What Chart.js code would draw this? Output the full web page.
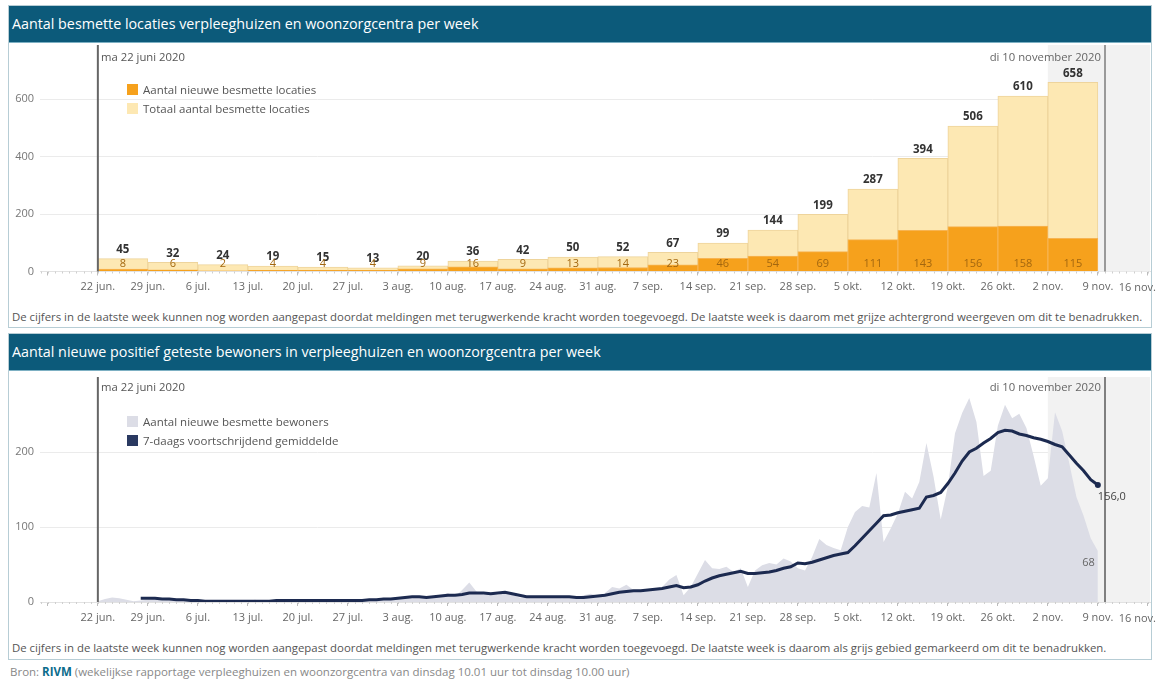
<!DOCTYPE html>
<html lang="nl">
<head>
<meta charset="utf-8">
<script src="https://cdn.jsdelivr.net/npm/chart.js@4.4.1/dist/chart.umd.min.js"></script>
<style>
  html, body { margin: 0; padding: 0; background: #fff; }
  body { width: 1158px; height: 682px; position: relative; overflow: hidden; font-family: 'Open Sans', sans-serif; color: #555; }
  .panel { position: absolute; left: 8px; width: 1142px; border: 1px solid #b7cdd5; }
  .head { position: absolute; left: 0; top: 0; right: 0; height: 36px; line-height: 36px; background: #0c5a7a; color: #fff; font-size: 14.3px; padding-left: 3px; border-bottom: 1px solid #7db0c3; }
  .box { position: absolute; left: 9px; width: 1149px; }
  .note { position: absolute; left: 12px; font-size: 11.4px; line-height: 16px; color: #555; white-space: nowrap; }
  .ann { position: absolute; font-size: 11.3px; line-height: 14px; color: #555; white-space: nowrap; }
  .legend { position: absolute; left: 127px; font-size: 11.5px; color: #555; }
  .legend div { position: relative; height: 19px; line-height: 19px; padding-left: 16px; white-space: nowrap; }
  .legend span { position: absolute; left: 0; top: 4px; width: 11px; height: 11px; }
  .src { position: absolute; left: 10px; top: 664px; font-size: 11.5px; line-height: 16px; color: #888; white-space: nowrap; }
  .src b { color: #0b6c8c; }
</style>
</head>
<body>

<div class="panel" style="top:5px;height:321px">
  <div class="head">Aantal besmette locaties verpleeghuizen en woonzorgcentra per week</div>
</div>
<div class="box" style="top:42px;height:260px"><canvas id="weekChart"></canvas></div>
<div class="ann" style="left:101px;top:50px">ma 22 juni 2020</div>
<div class="ann" style="right:57px;top:50px;color:#666">di 10 november 2020</div>
<div class="legend" style="top:80px">
  <div><span style="background:#f6a11c"></span>Aantal nieuwe besmette locaties</div>
  <div><span style="background:#fde8b3"></span>Totaal aantal besmette locaties</div>
</div>
<div class="note" style="top:309px">De cijfers in de laatste week kunnen nog worden aangepast doordat meldingen met terugwerkende kracht worden toegevoegd. De laatste week is daarom met grijze achtergrond weergeven om dit te benadrukken.</div>

<div class="panel" style="top:333px;height:325px">
  <div class="head">Aantal nieuwe positief geteste bewoners in verpleeghuizen en woonzorgcentra per week</div>
</div>
<div class="box" style="top:372px;height:258px"><canvas id="dayChart"></canvas></div>
<div class="ann" style="left:101px;top:380px">ma 22 juni 2020</div>
<div class="ann" style="right:57px;top:380px;color:#666">di 10 november 2020</div>
<div class="legend" style="top:412px">
  <div><span style="background:#dcdde6"></span>Aantal nieuwe besmette bewoners</div>
  <div><span style="background:#2a3961"></span>7-daags voortschrijdend gemiddelde</div>
</div>
<div class="note" style="top:640px">De cijfers in de laatste week kunnen nog worden aangepast doordat meldingen met terugwerkende kracht worden toegevoegd. De laatste week is daarom als grijs gebied gemarkeerd om dit te benadrukken.</div>

<div class="src">Bron: <b>RIVM</b> (wekelijkse rapportage verpleeghuizen en woonzorgcentra van dinsdag 10.01 uur tot dinsdag 10.00 uur)</div>

<script>
Chart.defaults.font.family = '"Open Sans", sans-serif';
Chart.defaults.font.size = 11;

// x-as: dagen sinds ma 22 juni, labels per week
const axisDays   = [-7, 0, 7, 14, 21, 28, 35, 42, 49, 56, 63, 70, 77, 84, 91, 98, 105, 112, 119, 126, 133, 140, 147];
const axisLabels = ['', '22 jun.', '29 jun.', '6 jul.', '13 jul.', '20 jul.', '27 jul.', '3 aug.', '10 aug.', '17 aug.',
                    '24 aug.', '31 aug.', '7 sep.', '14 sep.', '21 sep.', '28 sep.', '5 okt.', '12 okt.', '19 okt.',
                    '26 okt.', '2 nov.', '9 nov.', '16 nov.'];
const markStart = 0;      // ma 22 juni 2020
const markEnd = 141;      // di 10 november 2020
const lastWeekStart = 133;

// bovenste grafiek: per week
const barWeeks = ['22 jun.', '29 jun.', '6 jul.', '13 jul.', '20 jul.', '27 jul.', '3 aug.', '10 aug.', '17 aug.', '24 aug.',
                  '31 aug.', '7 sep.', '14 sep.', '21 sep.', '28 sep.', '5 okt.', '12 okt.', '19 okt.', '26 okt.', '2 nov.'];
const totalLoc = [45, 32, 24, 19, 15, 13, 20, 36, 42, 50, 52, 67, 99, 144, 199, 287, 394, 506, 610, 658];
const newLoc   = [8, 6, 2, 4, 4, 4, 9, 16, 9, 13, 14, 23, 46, 54, 69, 111, 143, 156, 158, 115];
const weekTicksY = [0, 200, 400, 600];

// onderste grafiek: per dag vanaf 22 juni
const dailyRes = [
  1, 4, 6, 5, 3, 1, 2,
  3, 4, 2, 3, 1, 2, 1,
  1, 2, 1, 0, 1, 2, 1,
  1, 3, 1, 2, 1, 3, 1,
  2, 1, 2, 3, 1, 2, 1,
  2, 1, 3, 2, 4, 3, 5,
  4, 6, 5, 8, 6, 7, 9,
  12, 7, 16, 26, 14, 10, 11,
  9, 13, 10, 6, 5, 7, 6,
  8, 7, 5, 8, 6, 9, 11,
  8, 12, 20, 18, 23, 16, 14,
  15, 17, 20, 30, 36, 9, 20,
  38, 56, 45, 44, 47, 40, 45,
  20, 42, 49, 52, 50, 58, 54,
  45, 42, 60, 84, 76, 72, 69,
  100, 120, 128, 126, 172, 80, 98,
  118, 147, 138, 160, 212, 167, 110,
  154, 225, 252, 272, 240, 168, 175,
  235, 263, 245, 251, 232, 195, 155,
  165, 253, 228, 185, 140, 115, 85,
  68
];
const avgStartDay = 6;
const avg7 = [
  5, 5, 5, 4, 4, 3, 3,
  2, 2, 1, 1, 1, 1, 1,
  1, 1, 1, 1, 1, 2, 2,
  2, 2, 2, 2, 2, 2, 2,
  2, 2, 2, 2, 3, 3, 4,
  4, 5, 6, 7, 7, 6, 7,
  8, 9, 9, 10, 12, 12, 12,
  11, 12, 13, 11, 9, 7, 7,
  7, 7, 7, 7, 7, 6, 6,
  7, 8, 9, 11, 13, 14, 15,
  15, 16, 17, 18, 20, 22, 19,
  20, 23, 28, 32, 35, 37, 39,
  41, 38, 38, 39, 40, 42, 45,
  47, 52, 51, 53, 56, 59, 62,
  64, 66, 75, 85, 95, 105, 115,
  116, 119, 121, 123, 125, 140, 142,
  146, 158, 172, 188, 200, 205, 212,
  218, 226, 229, 228, 224, 222, 219,
  217, 214, 210, 207, 196, 185, 175,
  163, 156
];
const dayTicksY = [0, 100, 200];

const lastTick = axisLabels.length - 1;

function xAxis(h) {
  return {
    type: 'linear', min: -8.1, max: 147.3, offset: false,
    afterBuildTicks: s => { s.ticks = axisDays.map(v => ({ value: v })); },
    afterFit: s => { s.height = h; s.paddingLeft = 0; s.paddingRight = 0; },
    // laatste label wordt door de plugin binnen de rand gezet
    ticks: { callback: (v, i) => i === lastTick ? '' : axisLabels[i], color: '#666', autoSkip: false, maxRotation: 0, padding: 5 },
    grid: { drawOnChartArea: false, drawTicks: true, tickLength: 4, color: '#bdbdbd', offset: false },
    border: { display: true, color: '#e2e2e2' }
  };
}
function yAxis(max, tickVals) {
  return {
    min: 0, max: max,
    afterBuildTicks: s => { s.ticks = tickVals.map(v => ({ value: v })); },
    afterFit: s => { s.width = 31; s.paddingTop = 0; s.paddingBottom = 0; },
    ticks: { color: '#777', padding: 6 },
    grid: { color: '#ebebeb', drawTicks: false },
    border: { display: false }
  };
}

// grijze laatste week, datumlijnen, dagstreepjes
const frame = {
  id: 'frame',
  beforeDatasetsDraw(chart) {
    const { ctx, chartArea: a, scales: { x, y } } = chart;
    const base = y.getPixelForValue(0);
    const g0 = x.getPixelForValue(lastWeekStart);
    ctx.save();
    ctx.fillStyle = '#f2f2f2';
    ctx.fillRect(g0, a.top, a.right - g0, base - a.top);
    ctx.restore();
  },
  afterDatasetsDraw(chart) {
    const { ctx, chartArea: a, scales: { x, y } } = chart;
    const base = y.getPixelForValue(0);
    ctx.save();
    ctx.strokeStyle = '#cfcfcf';
    ctx.lineWidth = 1;
    for (let d = -8; d <= 147; d++) {
      const px = Math.round(x.getPixelForValue(d)) + 0.5;
      ctx.beginPath(); ctx.moveTo(px, base); ctx.lineTo(px, base + 2); ctx.stroke();
    }
    ctx.lineWidth = 2;
    ctx.strokeStyle = '#666';
    let px = x.getPixelForValue(markStart);
    ctx.beginPath(); ctx.moveTo(px, a.top); ctx.lineTo(px, base); ctx.stroke();
    ctx.strokeStyle = chart.config.type === 'line' ? '#808080' : '#9a9a9a';
    px = x.getPixelForValue(markEnd);
    ctx.beginPath(); ctx.moveTo(px, a.top); ctx.lineTo(px, base); ctx.stroke();

    ctx.font = '11px "Open Sans"';
    ctx.fillStyle = '#666';
    ctx.textAlign = 'right';
    ctx.textBaseline = 'top';
    ctx.fillText(axisLabels[lastTick], chart.width - 2, base + 11);
    ctx.restore();
  }
};

const barLabels = {
  id: 'barLabels',
  afterDatasetsDraw(chart) {
    const { ctx, scales: { x, y } } = chart;
    const base = y.getPixelForValue(0);
    ctx.save();
    ctx.textAlign = 'center';
    ctx.textBaseline = 'middle';
    totalLoc.forEach((t, i) => {
      const cx = x.getPixelForValue(i * 7 + 3.5);
      ctx.font = 'bold 11.5px "Open Sans"';
      ctx.fillStyle = '#333';
      ctx.fillText(t, cx, y.getPixelForValue(t) - 9);
      ctx.font = '11px "Open Sans"';
      ctx.fillStyle = '#a3670f';
      ctx.fillText(newLoc[i], cx, base - 8);
    });
    ctx.restore();
  }
};

new Chart(document.getElementById('weekChart'), {
  type: 'bar',
  data: {
    labels: barWeeks,
    datasets: [
      {
        label: 'Aantal nieuwe besmette locaties',
        data: newLoc.map((v, i) => ({ x: i * 7 + 3.5, y: v })),
        backgroundColor: '#f6a11c', borderColor: '#f7b452', borderWidth: 1,
        grouped: false, categoryPercentage: 1, barPercentage: 1
      },
      {
        label: 'Totaal aantal besmette locaties',
        data: totalLoc.map((v, i) => ({ x: i * 7 + 3.5, y: v })),
        backgroundColor: '#fde8b3', borderColor: '#eed49c', borderWidth: 1,
        grouped: false, categoryPercentage: 1, barPercentage: 1
      }
    ]
  },
  options: {
    responsive: true, maintainAspectRatio: false, animation: false,
    layout: { padding: { top: 3, right: 8 } },
    scales: { x: xAxis(30.5), y: yAxis(788, weekTicksY) },
    plugins: { legend: { display: false }, tooltip: { enabled: false } }
  },
  plugins: [frame, barLabels]
});

const endLabels = {
  id: 'endLabels',
  afterDatasetsDraw(chart) {
    const { ctx, scales: { x, y } } = chart;
    const lastDay = dailyRes.length - 1;
    const lastAvg = avg7[avg7.length - 1];
    const px = x.getPixelForValue(lastDay);
    ctx.save();
    ctx.font = '11px "Open Sans"';
    ctx.textBaseline = 'middle';
    ctx.fillStyle = '#444';
    ctx.textAlign = 'left';
    ctx.fillText(lastAvg.toFixed(1).replace('.', ','), px, y.getPixelForValue(lastAvg) + 12);
    ctx.fillStyle = '#666';
    ctx.textAlign = 'right';
    ctx.fillText(dailyRes[lastDay], px - 3, y.getPixelForValue(dailyRes[lastDay]) + 12);
    ctx.restore();
  }
};

new Chart(document.getElementById('dayChart'), {
  type: 'line',
  data: {
    datasets: [
      {
        label: '7-daags voortschrijdend gemiddelde',
        data: avg7.map((v, i) => ({ x: i + avgStartDay, y: v })),
        borderColor: '#1c2a50', borderWidth: 3, tension: 0, fill: false,
        pointRadius: c => c.dataIndex === avg7.length - 1 ? 3 : 0,
        pointBackgroundColor: '#1c2a50', pointBorderWidth: 0
      },
      {
        label: 'Aantal nieuwe besmette bewoners',
        data: dailyRes.map((v, i) => ({ x: i, y: v })),
        borderWidth: 0, borderColor: 'rgba(0,0,0,0)', backgroundColor: '#dcdde6',
        fill: 'origin', pointRadius: 0, tension: 0
      }
    ]
  },
  options: {
    responsive: true, maintainAspectRatio: false, animation: false,
    layout: { padding: { top: 5, right: 8 } },
    scales: { x: xAxis(28), y: yAxis(300, dayTicksY) },
    plugins: { legend: { display: false }, tooltip: { enabled: false } }
  },
  plugins: [frame, endLabels]
});
</script>
</body>
</html>
